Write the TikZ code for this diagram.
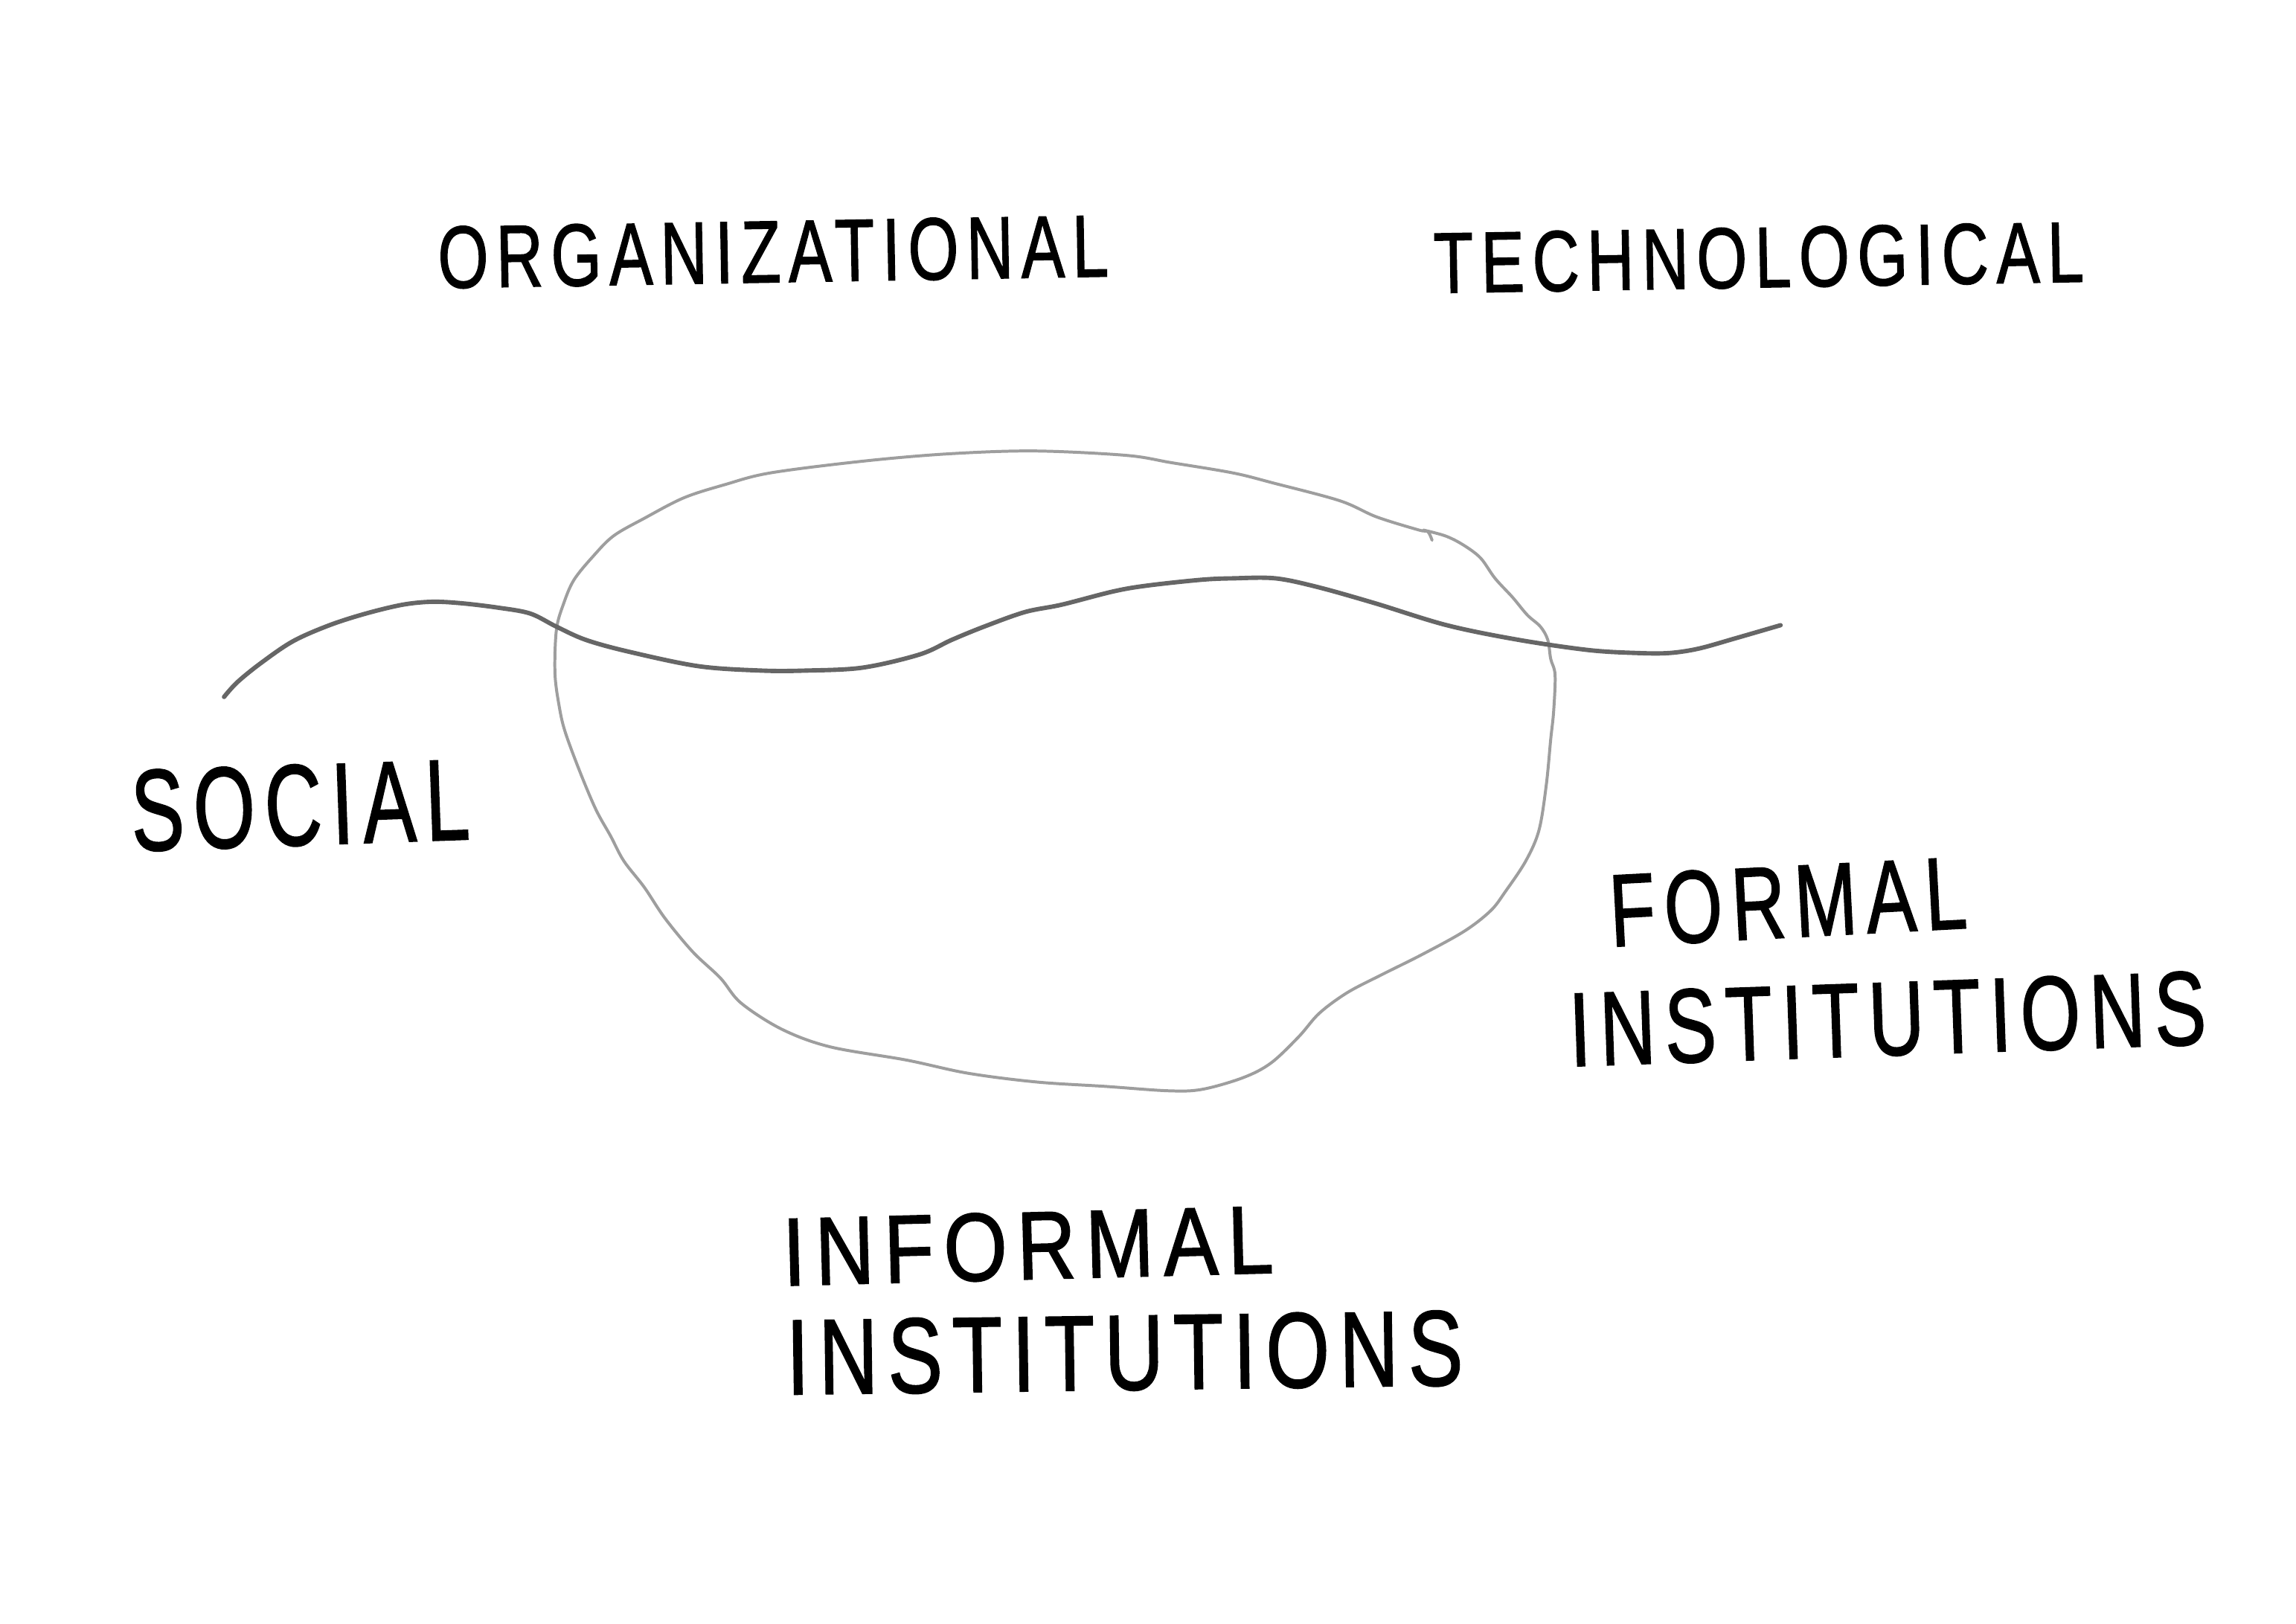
\documentclass[tikz,border=0pt]{standalone}
\usepackage{fontspec}
\usepackage{tikz}
\newfontfamily\handfont[LetterSpace=12,FakeBold=1.5]{Liberation Sans}
\definecolor{SketchLineColor1}{RGB}{102,102,102}
\definecolor{SketchLineColor2}{RGB}{158,158,158}
\newcommand{\handtext}[3]{\resizebox{#1}{#2}{\handfont #3}}

\begin{document}
\begin{tikzpicture}[x=0.02cm,y=-0.02cm,
  lbl/.style={inner sep=0pt,text=black},
  wave/.style={SketchLineColor1,line width=1.7pt,line cap=round,line join=round},
  blob/.style={SketchLineColor2,line width=1.15pt,line cap=round,line join=round}]
\path[use as bounding box,fill=white] (0,0) rectangle (1568,1109);
% the closed region
\draw[blob] plot[smooth,tension=0.55] coordinates {
  (978,369) (975,363) (969,362) (940,353) (915,342) (870,330) (842,323)
  (800,316) (769,311) (706,308) (647,310) (589,315) (526,323) (495,331)
  (467,340) (440,354) (419,366) (405,380) (392,396) (385,412) (380,430)
  (379,460) (382,483) (386,500) (396,527) (407,553) (417,571) (426,588)
  (440,606) (454,627) (473,650) (492,668) (506,685) (534,703) (567,715)
  (619,724) (661,733) (708,739) (755,742) (798,745) (821,744) (849,736)
  (868,726) (887,708) (901,692) (920,678) (943,666) (971,652) (1000,636)
  (1018,622) (1028,609) (1042,588) (1051,567) (1056,536) (1059,505)
  (1061,486) (1062,461) (1059,450) (1057,437) (1052,428) (1043,420)
  (1033,408) (1021,395) (1011,381) (999,372) (987,366) (972,362)};
% the dividing line
\draw[wave] plot[smooth,tension=0.55] coordinates {
  (153,476) (162,466) (178,453) (200,438) (225,427) (250,419) (275,413)
  (295,411) (315,412) (340,415) (362,419) (380,428) (400,437) (429,445)
  (477,455) (520,458) (550,458) (589,456) (628,447) (650,437) (672,428)
  (700,418) (725,413) (760,404) (783,400) (820,396) (842,395) (871,395)
  (900,401) (939,412) (988,427) (1037,437) (1085,444) (1118,446)
  (1140,446) (1160,443) (1185,436) (1216,427)};
\node[lbl,rotate=1] (n0) at (528,172) {\handtext{9.16cm}{0.84cm}{ORGANIZATIONAL}};
\node[lbl,rotate=1] (n1) at (1201,176) {\handtext{8.88cm}{0.82cm}{TECHNOLOGICAL}};
\node[lbl,rotate=2] (n2) at (205,550) {\handtext{4.62cm}{1.1cm}{SOCIAL}};
\node[lbl,rotate=3] (n3) at (1221,616) {\handtext{4.88cm}{0.98cm}{FORMAL}};
\node[lbl,rotate=2] (n4) at (1289,696) {\handtext{8.7cm}{1.0cm}{INSTITUTIONS}};
\node[lbl,rotate=1.5] (n5) at (702,851) {\handtext{6.7cm}{0.92cm}{INFORMAL}};
\node[lbl,rotate=0.8] (n6) at (768,924) {\handtext{9.24cm}{1.02cm}{INSTITUTIONS}};
\end{tikzpicture}
\end{document}
